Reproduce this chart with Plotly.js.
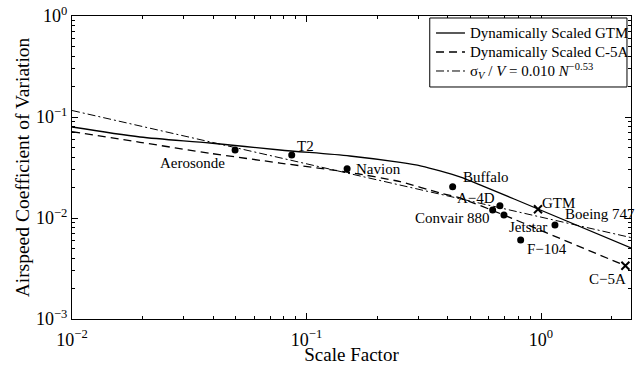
<!DOCTYPE html>
<html>
<head>
<meta charset="utf-8">
<script src="https://cdn.plot.ly/plotly-3.0.1.min.js"></script>
<style>
  html, body { margin: 0; padding: 0; background: #fff; }
  #chart { width: 641px; height: 365px; }
</style>
</head>
<body>
<div id="chart"></div>
<script>
// Dynamically scaled GTM model curve
const gtmScale = [0.01, 0.0195, 0.0388, 0.0771, 0.153, 0.251, 0.309, 0.371, 0.451, 0.566, 0.971, 2.42];
const gtmCv    = [0.0796, 0.0634, 0.0553, 0.0471, 0.0411, 0.0355, 0.0327, 0.0293, 0.0255, 0.0207, 0.01228, 0.00505];

// Dynamically scaled C-5A model curve
const c5aScale = [0.01, 0.0195, 0.0388, 0.0771, 0.153, 0.251, 0.371, 0.451, 0.695, 0.99, 2.29];
const c5aCv    = [0.0715, 0.0562, 0.0437, 0.0350, 0.0282, 0.0229, 0.0177, 0.0158, 0.0107, 0.0076, 0.00337];

// Power-law fit sigma_V / V = 0.010 N^-0.53 (end points of the straight log-log line)
const fitScale = [0.01, 2.42];
const fitCv    = [0.116, 0.0064];

// Aircraft data points
const aircraftNames = ['Aerosonde', 'T2', 'Navion', 'Buffalo', 'A\u22124D', 'Convair 880', 'Jetstar', 'F\u2212104', 'Boeing 747'];
const aircraftScale = [0.0496, 0.0865, 0.149, 0.420, 0.668, 0.622, 0.695, 0.819, 1.147];
const aircraftCv    = [0.0471, 0.0421, 0.0307, 0.0204, 0.01324, 0.0120, 0.01071, 0.00606, 0.00853];

// Reference designs marked with crosses
const refNames = ['GTM', 'C\u22125A'];
const refScale = [0.971, 2.29];
const refCv    = [0.0122, 0.00337];

// Legend entries
const legendNames = [
  'Dynamically Scaled GTM',
  'Dynamically Scaled C-5A',
  '\u03c3<sub><i>V</i></sub> / <i>V</i> = 0.010 <i>N</i><sup>\u22120.53</sup>'
];

// Tick labels
const xTickVals = [0.01, 0.1, 1];
const xTickText = ['10<sup>\u22122</sup>', '10<sup>\u22121</sup>', '10<sup>0</sup>'];
const yTickVals = [0.001, 0.01, 0.1, 1];
const yTickText = ['10<sup>\u22123</sup>', '10<sup>\u22122</sup>', '10<sup>\u22121</sup>', '10<sup>0</sup>'];

const FONT = 'Liberation Serif';
const LINE_STYLES = [
  { color: '#000', width: 1.3, dash: 'solid' },
  { color: '#000', width: 1.3, dash: '8px,5px' },
  { color: '#000', width: 1, dash: '8px,3px,2px,3px' }
];

// Label placement for each point: [xanchor, xshift, yshift]
const aircraftLabelPos = [
  ['right', -8, -13],
  ['left', 3, 9],
  ['left', 7, 0],
  ['left', 8, 10],
  ['right', -3, 8],
  ['right', -1, -8],
  ['left', 3, -12],
  ['left', 4, -9],
  ['left', 8, 11]
];
const refLabelPos = [
  ['left', 2, 6],
  ['right', 3, -13]
];

const traces = [
  {
    x: gtmScale, y: gtmCv, type: 'scatter', mode: 'lines',
    name: legendNames[0],
    line: Object.assign({ shape: 'spline', smoothing: 0.8 }, LINE_STYLES[0])
  },
  {
    x: c5aScale, y: c5aCv, type: 'scatter', mode: 'lines',
    name: legendNames[1],
    line: Object.assign({ shape: 'spline', smoothing: 0.6 }, LINE_STYLES[1])
  },
  {
    x: fitScale, y: fitCv, type: 'scatter', mode: 'lines',
    name: legendNames[2],
    line: LINE_STYLES[2]
  },
  {
    x: aircraftScale, y: aircraftCv, type: 'scatter', mode: 'markers',
    hoverinfo: 'skip',
    marker: { symbol: 'circle', size: 7, color: '#000' }
  },
  {
    x: refScale, y: refCv, type: 'scatter', mode: 'markers',
    hoverinfo: 'skip',
    marker: { symbol: 'x-thin', size: 8, color: '#000', line: { color: '#000', width: 2 } }
  }
];

function labelAnnotations(names, xs, ys, pos) {
  return names.map((n, i) => ({
    x: Math.log10(xs[i]), y: Math.log10(ys[i]), xref: 'x', yref: 'y',
    text: n, showarrow: false,
    xanchor: pos[i][0], yanchor: 'middle',
    xshift: pos[i][1], yshift: pos[i][2],
    font: { family: FONT, size: 15, color: '#000' }
  }));
}

// Boxed legend in the upper right corner of the axes
const legendBox = { x0: 0.640, x1: 0.9928, y0: 0.7657, y1: 0.9934 };
const legendRows = [0.9439, 0.8812, 0.8185];
const legendShapes = [{
  type: 'rect', xref: 'paper', yref: 'paper',
  x0: legendBox.x0, x1: legendBox.x1, y0: legendBox.y0, y1: legendBox.y1,
  line: { color: '#000', width: 1 }, fillcolor: '#fff', layer: 'above'
}].concat(legendRows.map((ry, i) => ({
  type: 'line', xref: 'paper', yref: 'paper',
  x0: 0.6512, x1: 0.7030, y0: ry, y1: ry,
  line: LINE_STYLES[i], layer: 'above'
})));
const legendLabels = legendRows.map((ry, i) => ({
  x: 0.7084, y: ry, xref: 'paper', yref: 'paper',
  xanchor: 'left', yanchor: 'middle', showarrow: false,
  text: legendNames[i],
  font: { family: FONT, size: 15, color: '#000' }
}));

const annotations = labelAnnotations(aircraftNames, aircraftScale, aircraftCv, aircraftLabelPos)
  .concat(labelAnnotations(refNames, refScale, refCv, refLabelPos))
  .concat(legendLabels);

const axisCommon = {
  type: 'log',
  showgrid: false,
  zeroline: false,
  showline: true,
  linecolor: '#000',
  linewidth: 1,
  mirror: 'ticks',
  ticks: 'inside',
  ticklen: 6,
  tickcolor: '#000',
  tickwidth: 1,
  tickfont: { family: FONT, size: 18, color: '#000' },
  minor: { ticks: 'inside', ticklen: 3, tickcolor: '#000', tickwidth: 1, dtick: 'D1', showgrid: false }
};

const layout = {
  width: 641, height: 365,
  margin: { l: 72, r: 10, t: 16, b: 46 },
  paper_bgcolor: '#fff',
  plot_bgcolor: '#fff',
  font: { family: FONT, color: '#000' },
  showlegend: false,
  xaxis: Object.assign({}, axisCommon, {
    range: [-2, Math.log10(2.42)],
    tickmode: 'array', tickvals: xTickVals, ticktext: xTickText,
    ticklabelstandoff: 4,
    title: { text: 'Scale Factor', font: { family: FONT, size: 19, color: '#000' }, standoff: 2 }
  }),
  yaxis: Object.assign({}, axisCommon, {
    range: [-3, 0],
    tickmode: 'array', tickvals: yTickVals, ticktext: yTickText,
    title: { text: 'Airspeed Coefficient of Variation', font: { family: FONT, size: 19.5, color: '#000' }, standoff: 1 }
  }),
  shapes: legendShapes,
  annotations: annotations
};

Plotly.newPlot('chart', traces, layout, { displayModeBar: false, staticPlot: true });
</script>
</body>
</html>
